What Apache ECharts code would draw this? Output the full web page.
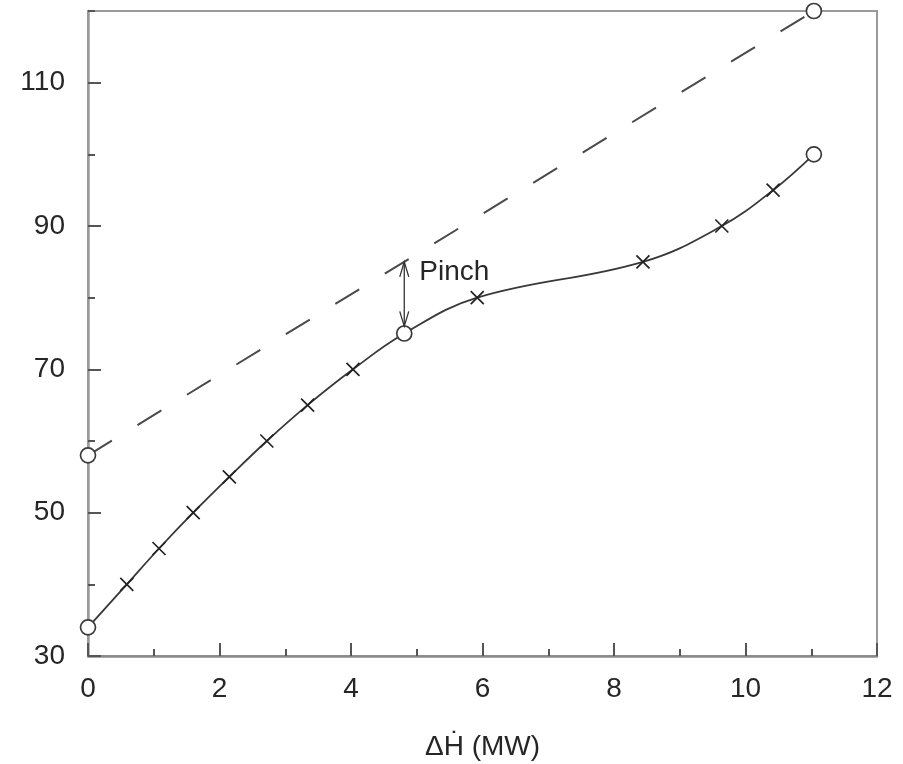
<!DOCTYPE html>
<html>
<head>
<meta charset="utf-8">
<script src="https://cdn.jsdelivr.net/npm/echarts@6/dist/echarts.min.js"></script>
<style>
  html, body { margin: 0; padding: 0; background: #fff; }
  #chart { width: 903px; height: 764px; }
</style>
</head>
<body>
<div id="chart"></div>
<script>
// ---- data ----
const coldX = [0, 0.59, 1.08, 1.60, 2.15, 2.72, 3.34, 4.03, 4.81, 5.92, 8.44, 9.64, 10.42, 11.04];
const coldY = [34, 40, 45, 50, 55, 60, 65, 70, 75, 80, 85, 90, 95, 100];
const coldCircleIdx = [0, 8, 13];
const hotX = [0, 11.04];
const hotY = [58, 120];
const pinchX = 4.81;
const pinchBottom = 76;
const pinchTop = 85;
const pinchLabel = 'Pinch';
const xTicks = { min: 0, max: 12, major: 2, minor: 1 };
const yTicks = { min: 30, max: 120, major: 20, minor: 10 };
const xName = 'ΔḢ (MW)';

const FONT = '"Liberation Sans", Arial, Helvetica, sans-serif';
const TXT = '#262626';
const INK = '#383838';

const coldLine = coldX.map((x, i) => [x, coldY[i]]);
const coldCrosses = coldLine.filter((_, i) => !coldCircleIdx.includes(i));
const coldCircles = coldLine.filter((_, i) => coldCircleIdx.includes(i));
const hotLine = hotX.map((x, i) => [x, hotY[i]]);

const chart = echarts.init(document.getElementById('chart'), null, { renderer: 'canvas' });

const option = {
  backgroundColor: '#fff',
  animation: false,
  grid: {
    left: 88, top: 11, right: 26, bottom: 108,
    outerBoundsMode: 'none',
    show: true, borderColor: '#9a9a9a', borderWidth: 2, backgroundColor: 'transparent'
  },
  xAxis: [
    {
      type: 'value', min: xTicks.min, max: xTicks.max, interval: xTicks.major,
      position: 'bottom',
      name: xName, nameLocation: 'middle', nameGap: 77,
      nameTextStyle: { fontFamily: FONT, fontSize: 28, color: TXT },
      axisLine: { show: true, lineStyle: { color: '#8a8a8a', width: 2.5 } },
      axisTick: { show: true, inside: true, length: 13, lineStyle: { color: '#555', width: 2 } },
      axisLabel: { margin: 19, fontFamily: FONT, fontSize: 28, color: TXT },
      splitLine: { show: false }
    },
    {
      type: 'value', min: xTicks.min, max: xTicks.max, interval: xTicks.minor,
      position: 'bottom',
      axisLine: { show: false },
      axisTick: { show: true, inside: true, length: 7, lineStyle: { color: '#555', width: 2 } },
      axisLabel: { show: false },
      splitLine: { show: false }
    }
  ],
  yAxis: [
    {
      type: 'value', min: yTicks.min, max: yTicks.max, interval: yTicks.major,
      position: 'left',
      axisLine: { show: true, lineStyle: { color: '#9a9a9a', width: 2.5 } },
      axisTick: { show: true, inside: true, length: 13, lineStyle: { color: '#555', width: 2 } },
      axisLabel: { margin: 23, fontFamily: FONT, fontSize: 28, color: TXT, showMaxLabel: false },
      splitLine: { show: false }
    },
    {
      type: 'value', min: yTicks.min, max: yTicks.max, interval: yTicks.minor,
      position: 'left',
      axisLine: { show: false },
      axisTick: { show: true, inside: true, length: 7, lineStyle: { color: '#555', width: 2 } },
      axisLabel: { show: false },
      splitLine: { show: false }
    }
  ],
  series: [
    {
      type: 'line', name: 'hot', data: hotLine, symbol: 'none',
      lineStyle: { color: '#4a4a4a', width: 2, type: [28, 30] }, z: 2
    },
    {
      type: 'line', name: 'cold', data: coldLine, symbol: 'none', smooth: 0.4,
      lineStyle: { color: INK, width: 1.8 }, z: 2
    },
    {
      type: 'scatter', name: 'crosses', data: coldCrosses,
      symbol: 'path://M0,0L10,10M10,0L0,10', symbolSize: 13,
      itemStyle: { color: 'rgba(0,0,0,0)', borderColor: '#222', borderWidth: 1.7, opacity: 1 }, z: 3
    },
    {
      type: 'scatter', name: 'circles', data: coldCircles.concat(hotLine),
      symbol: 'circle', symbolSize: 15,
      itemStyle: { color: '#fff', borderColor: '#3a3a3a', borderWidth: 1.7, opacity: 1 }, z: 4
    },
    {
      type: 'custom', name: 'pinch', data: [[pinchX, pinchBottom, pinchTop]], z: 5,
      renderItem: function (params, api) {
        const top = api.coord([api.value(0), api.value(2)]);
        const bot = api.coord([api.value(0), api.value(1)]);
        const st = { stroke: '#333', lineWidth: 1.3, fill: 'none' };
        return {
          type: 'group',
          children: [
            { type: 'line', shape: { x1: top[0], y1: top[1], x2: bot[0], y2: bot[1] }, style: st },
            { type: 'polyline', shape: { points: [[top[0] - 4.5, top[1] + 15], [top[0], top[1]], [top[0] + 4.5, top[1] + 15]] }, style: st },
            { type: 'polyline', shape: { points: [[bot[0] - 4.5, bot[1] - 15], [bot[0], bot[1]], [bot[0] + 4.5, bot[1] - 15]] }, style: st },
            {
              type: 'text',
              style: {
                text: pinchLabel, x: top[0] + 15, y: top[1] + 10,
                fill: TXT, font: '28px ' + FONT, verticalAlign: 'middle', align: 'left'
              }
            }
          ]
        };
      }
    }
  ]
};
chart.setOption(option);
</script>
</body>
</html>
